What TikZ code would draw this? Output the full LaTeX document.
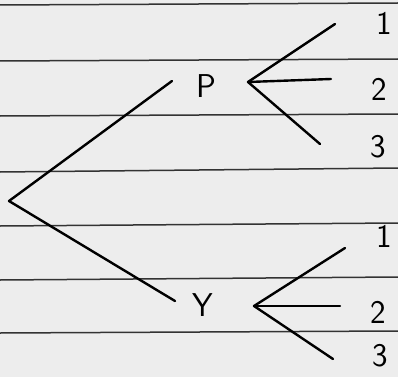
\documentclass[tikz,border=0pt]{standalone}
\begin{document}
\begin{tikzpicture}[x=1pt,y=-1pt,
  rule/.style={draw=black!80,line width=1.5pt},
  branch/.style={draw=black,line width=2.4pt,line cap=round,line join=round},
  lab/.style={font=\fontsize{33}{33}\selectfont\sffamily,inner sep=0pt}]
\fill[black!7] (0,0) rectangle (398,377);
\useasboundingbox (0,0) rectangle (398,377);
% ruled lines
\foreach \yl/\yr in {5/3,61/59,116/114,172/168,226/223,280/277,333/331}
  \draw[rule] (0,\yl) -- (398,\yr);
% nodes
\coordinate (root) at (9,201);
\node[lab] (P) at (206,86) {P};
\node[lab] (Y) at (203,305) {Y};
\coordinate (pv) at (248,82);
\coordinate (p1) at (335,24);
\coordinate (p2) at (331,79);
\coordinate (p3) at (320,144);
\coordinate (yv) at (254,306);
\coordinate (y1) at (345,248);
\coordinate (y2) at (340,306);
\coordinate (y3) at (333,359);
\coordinate (pe) at (172,81);
\coordinate (ye) at (175,301);
\node[lab] (lp1) at (384,23) {1};
\node[lab] (lp2) at (379,89) {2};
\node[lab] (lp3) at (378,147) {3};
\node[lab] (ly1) at (384,236) {1};
\node[lab] (ly2) at (378,312) {2};
\node[lab] (ly3) at (380,356) {3};
% branches
\draw[branch] (pe) -- (root) -- (ye);
\draw[branch] (p1) -- (pv) -- (p3);
\draw[branch] (pv) -- (p2);
\draw[branch] (y1) -- (yv) -- (y3);
\draw[branch] (yv) -- (y2);
\end{tikzpicture}
\end{document}
